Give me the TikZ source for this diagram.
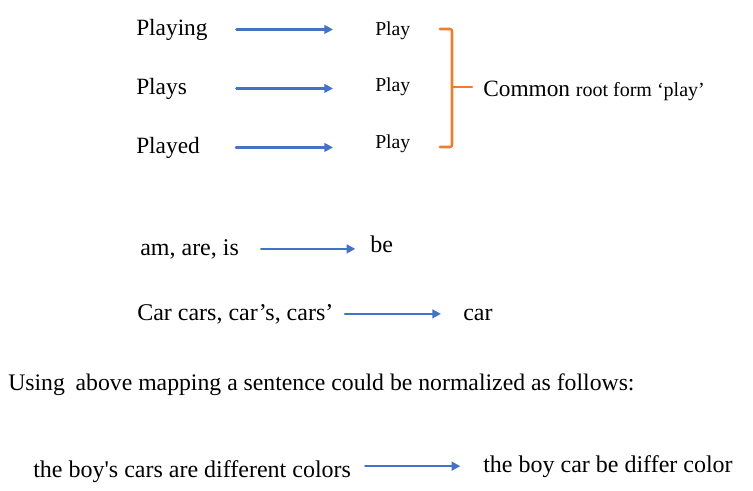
\documentclass[tikz,border=0pt]{standalone}
\usepackage{fontspec}
\setmainfont{Liberation Serif}
\usetikzlibrary{arrows.meta}
\definecolor{arrowblue}{HTML}{4472C4}
\definecolor{braceorange}{HTML}{ED7D31}

\begin{document}
\begin{tikzpicture}[x=0.75pt, y=-0.75pt, line cap=round, line join=round]

    % Stili
    \tikzset{word/.style={inner sep=0pt, anchor=base west, font=\fontsize{17.5}{20}\selectfont},
             bigword/.style={word, font=\fontsize{18}{21}\selectfont},
             small/.style={word, font=\fontsize{14.8}{18}\selectfont},
             flow/.style={draw=arrowblue, line width=1.9pt, -{Triangle[length=6.5pt, width=6.5pt]}},
             brace/.style={draw=braceorange, line width=1.9pt, rounded corners=1.5pt}}

    \useasboundingbox (0,0) rectangle (753,490);

    % Forme flesse di play
    \node[word] (playing) at (136,35) {Playing};
    \node[word] (plays) at (136,94) {Plays};
    \node[word] (played) at (136,153) {Played};

    \node[small] (play1) at (375,35) {Play};
    \node[small] (play2) at (375,91) {Play};
    \node[small] (play3) at (375,148) {Play};

    \draw[flow, shorten <=21.5pt, shorten >=31.5pt] (playing.east) -- (playing.east -| play1.west);
    \draw[flow, shorten <=37pt, shorten >=31.5pt] (plays.east) -- (plays.east -| play2.west);
    \draw[flow, shorten <=27pt, shorten >=31.5pt] (played.east) -- (played.east -| play3.west);

    % Parentesi graffa
    \draw[brace] (440,29) -- (452,29) -- (452,147) -- (440,147);
    \draw[brace] (452,87) -- (472,87);
    \node[word] (common) at (483,96) {Common {\fontsize{15}{18}\selectfont root form ‘play’}};

    % be e car
    \node[bigword] (verbs) at (140,255) {am, are, is};
    \node[bigword] (be) at (370,252) {be};
    \draw[flow, shorten <=16.5pt, shorten >=11pt] (verbs.east) -- (verbs.east -| be.west);

    \node[bigword] (cars) at (137,320) {Car cars, car’s, cars’};
    \node[bigword] (car) at (463,320) {car};
    \draw[flow, shorten <=8.5pt, shorten >=16.5pt] (cars.east) -- (cars.east -| car.west);

    % Frase normalizzata
    \node[word, font=\fontsize{17.8}{21}\selectfont] (using) at (8,390) {Using\hspace{0.2em} above mapping a sentence could be normalized as follows:};

    \node[bigword] (sent) at (33,477) {the boy\textquotesingle s cars are different colors};
    \node[bigword] (norm) at (483,472) {the boy car be differ color};
    \draw[flow, shorten <=10.5pt, shorten >=17pt] (norm.west -| sent.east) -- (norm.west);

\end{tikzpicture}
\end{document}
